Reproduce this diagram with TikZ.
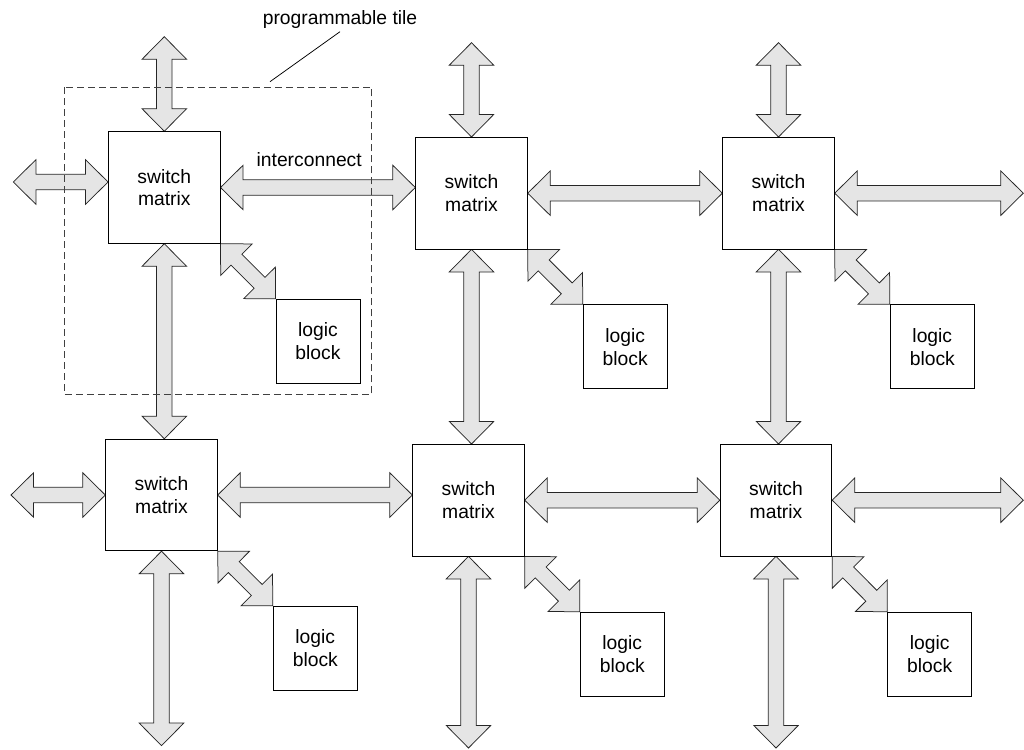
\documentclass[tikz,border=0pt]{standalone}
\usepackage{fontspec}
\setmainfont{Liberation Sans}
\usetikzlibrary{calc,backgrounds}

\definecolor{busfill}{gray}{0.9}
\newcommand\diagfont{\fontsize{19.3pt}{22.7pt}\selectfont}

% bus arrow geometry
\newcommand\bushead{22.6pt}
\newcommand\buswing{22.3pt}
\newcommand\busshaft{7.7pt}

% wide double-headed bus arrow between two points
\newcommand\bus[2]{%
  \draw[busstyle] (#1)
    -- ($(#1)!\bushead!(#2)!\buswing!90:(#2)$)
    -- ($(#1)!\bushead!(#2)!\busshaft!90:(#2)$)
    -- ($(#2)!\bushead!(#1)!\busshaft!-90:(#1)$)
    -- ($(#2)!\bushead!(#1)!\buswing!-90:(#1)$)
    -- (#2)
    -- ($(#2)!\bushead!(#1)!\buswing!90:(#1)$)
    -- ($(#2)!\bushead!(#1)!\busshaft!90:(#1)$)
    -- ($(#1)!\bushead!(#2)!\busshaft!-90:(#2)$)
    -- ($(#1)!\bushead!(#2)!\buswing!-90:(#2)$)
    -- cycle;}

\tikzset{
  swbox/.style={draw=black, fill=white, line width=0.9pt, minimum size=111.5pt,
    inner sep=0pt, align=center, font=\diagfont},
  lgbox/.style={draw=black, fill=white, line width=0.9pt, minimum size=84pt,
    inner sep=0pt, align=center, font=\diagfont},
  busstyle/.style={draw=black!85, fill=busfill, line width=0.75pt, line join=miter},
  tileframe/.style={draw=black!75, line width=0.9pt, dash pattern=on 7pt off 4pt},
  label/.style={inner sep=0pt, font=\diagfont, anchor=base},
}

\begin{document}
\begin{tikzpicture}[x=1pt, y=-1pt]
\useasboundingbox (0,0) rectangle (1024,749);

% switch matrices
\node[swbox] (sm11) at (164.3,187.5) {switch\\matrix};
\node[swbox] (sm12) at (471.5,193.2) {switch\\matrix};
\node[swbox] (sm13) at (778.5,193.2) {switch\\matrix};
\node[swbox] (sm21) at (161.5,495.0) {switch\\matrix};
\node[swbox] (sm22) at (468.5,500.2) {switch\\matrix};
\node[swbox] (sm23) at (776.0,500.2) {switch\\matrix};

% logic blocks
\node[lgbox] (lb11) at (318.0,341.3) {logic\\block};
\node[lgbox] (lb12) at (625.2,346.8) {logic\\block};
\node[lgbox] (lb13) at (932.3,346.8) {logic\\block};
\node[lgbox] (lb21) at (315.3,648.3) {logic\\block};
\node[lgbox] (lb22) at (622.3,654.2) {logic\\block};
\node[lgbox] (lb23) at (929.7,654.2) {logic\\block};

% free ends of the buses at the edge of the array
\coordinate (t1) at (164.3,36.7);
\coordinate (t2) at (471.5,42.7);
\coordinate (t3) at (778.5,42.7);
\coordinate (l1) at (13.3,182.0);
\coordinate (l2) at (11.0,495.0);
\coordinate (r1) at (1023.3,193.2);
\coordinate (r2) at (1023.3,500.2);
\coordinate (b1) at (161.5,745.7);
\coordinate (b2) at (468.5,748.0);
\coordinate (b3) at (776.0,748.0);

\begin{pgfonlayer}{background}
  \fill[white] (0,0) rectangle (1024,749);
  % upper row
  \bus{t1}{sm11.north}
  \bus{t2}{sm12.north}
  \bus{t3}{sm13.north}
  \bus{l1}{l1 -| sm11.west}
  \bus{sm11.east}{sm11.east -| sm12.west}
  \bus{sm12.east}{sm13.west}
  \bus{sm13.east}{r1}
  \bus{sm11.south east}{lb11.north west}
  \bus{sm12.south east}{lb12.north west}
  \bus{sm13.south east}{lb13.north west}
  % between the rows
  \bus{sm11.south}{sm11.south |- sm21.north}
  \bus{sm12.south}{sm12.south |- sm22.north}
  \bus{sm13.south}{sm13.south |- sm23.north}
  % lower row
  \bus{l2}{sm21.west}
  \bus{sm21.east}{sm21.east -| sm22.west}
  \bus{sm22.east}{sm23.west}
  \bus{sm23.east}{r2}
  \bus{sm21.south east}{lb21.north west}
  \bus{sm22.south east}{lb22.north west}
  \bus{sm23.south east}{lb23.north west}
  \bus{sm21.south}{b1}
  \bus{sm22.south}{b2}
  \bus{sm23.south}{b3}
\end{pgfonlayer}

% labels
\node[label] (icon) at (309.2,166.7) {interconnect};
\node[label] (tilelabel) at (340.0,25.0) {programmable tile};

% one programmable tile
\draw[tileframe] (64.0,87.3) rectangle (371.7,394.5);
\coordinate (leadend) at (270.0,81.7);
\draw[line width=0.75pt] ([yshift=-2.5pt]tilelabel.south) -- (leadend);
\end{tikzpicture}
\end{document}
